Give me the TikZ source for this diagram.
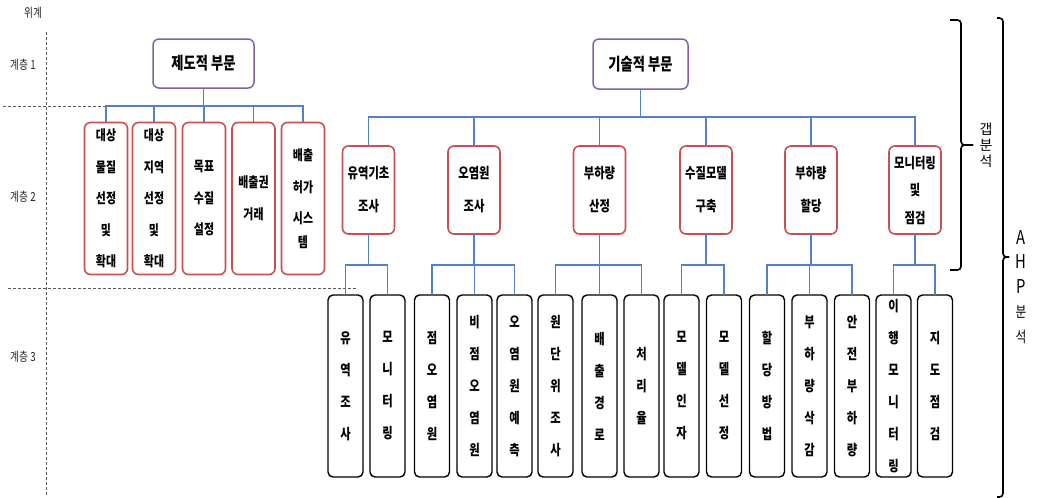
\documentclass[tikz,border=0pt]{standalone}
\usepackage{fontspec}
\newfontfamily\kr[FakeStretch=0.78]{Noto Sans CJK KR}
\newfontfamily\krn{Noto Sans CJK KR}
\definecolor{purpleC}{RGB}{128,100,162}
\definecolor{redC}{RGB}{200,80,80}
\definecolor{blueC}{RGB}{84,130,190}
\definecolor{guideC}{RGB}{90,90,90}
\tikzset{
  topbox/.style={draw=purpleC, line width=1.5pt, rounded corners=6pt, inner sep=0pt,
    font=\kr\bfseries\fontsize{17}{20}\selectfont},
  instbox/.style={draw=redC, line width=1.6pt, rounded corners=6pt, inner sep=0pt,
    minimum width=43pt, minimum height=152pt, align=center,
    font=\kr\bfseries\fontsize{14}{31.5}\selectfont},
  techbox/.style={draw=redC, line width=1.6pt, rounded corners=6pt, inner sep=0pt,
    minimum width=52pt, minimum height=88pt, align=center,
    font=\kr\bfseries\fontsize{14.5}{33}\selectfont},
  leafbox/.style={draw=black, line width=1.4pt, rounded corners=5pt, inner sep=0pt,
    minimum width=35pt, minimum height=182pt, align=center,
    font=\kr\bfseries\fontsize{14.5}{32}\selectfont},
  conn/.style={draw=blueC, line width=1.3pt, line cap=rect},
  guide/.style={draw=guideC, line width=1pt, dash pattern=on 3pt off 2pt},
  sidelabel/.style={inner sep=0pt, text=black!85, font=\kr\fontsize{12.5}{14}\selectfont},
  bracestyle/.style={draw=black, line width=1.6pt, rounded corners=3.5pt},
}
\begin{document}
\begin{tikzpicture}[x=1pt,y=-1pt]
\useasboundingbox (0,0) rectangle (1037,498);

% guides
\draw[guide] (46,32) -- (46,495);
\draw[guide] (3,106) -- (107,106);
\draw[guide] (8,288) -- (356,288);

% side labels
\node[sidelabel] (lw) at (33,13) {위계};
\node[sidelabel] (l1lab) at (23,65) {계층 1};
\node[sidelabel] (l2lab) at (23,197) {계층 2};
\node[sidelabel] (l3lab) at (23,357) {계층 3};

% level 1
\node[topbox, minimum width=101pt, minimum height=49pt] (A) at (203.5,63.5) {제도적 부문};
\node[topbox, minimum width=95pt, minimum height=50pt] (B) at (640.5,64) {기술적 부문};

% level 2 left
\node[instbox] (l1) at (106,198.5) {대상\\물질\\선정\\및\\확대};
\node[instbox] (l2) at (154,198.5) {대상\\지역\\선정\\및\\확대};
\node[instbox] (l3) at (204,198.5) {목표\\수질\\설정};
\node[instbox] (l4) at (253.5,198.5) {배출권\\거래};
\node[instbox] (l5) at (303,198.5) {배출\\허가\\시스\\[-8pt]템};

% level 2 right
\node[techbox] (r1) at (368.5,190) {유역기초\\조사};
\node[techbox] (r2) at (474,190) {오염원\\조사};
\node[techbox] (r3) at (599.5,190) {부하량\\산정};
\node[techbox] (r4) at (706,190) {수질모델\\구축};
\node[techbox] (r5) at (811,190) {부하량\\할당};
\node[techbox] (r6) at (915,190) {모니터링\\[-5.5pt]및\\[-5.5pt]점검};

% level 3
\node[leafbox] (c1) at (345.5,386) {유\\역\\조\\사};
\node[leafbox] (c2) at (387.5,386) {모\\니\\터\\링};
\node[leafbox] (c3) at (432,386) {점\\오\\염\\원};
\node[leafbox] (c4) at (474.5,386) {비\\점\\오\\염\\원};
\node[leafbox] (c5) at (514.5,386) {오\\염\\원\\예\\측};
\node[leafbox] (c6) at (555.5,386) {원\\단\\위\\조\\사};
\node[leafbox] (c7) at (599.5,386) {배\\출\\경\\로};
\node[leafbox] (c8) at (641.5,386) {처\\리\\율};
\node[leafbox] (c9) at (681.5,386) {모\\델\\인\\자};
\node[leafbox] (c10) at (724,386) {모\\델\\선\\정};
\node[leafbox] (c11) at (767,386) {할\\당\\방\\법};
\node[leafbox] (c12) at (809.5,386) {부\\하\\량\\삭\\감};
\node[leafbox] (c13) at (852,386) {안\\전\\부\\하\\량};
\node[leafbox] (c14) at (893.5,386) {이\\행\\모\\니\\터\\링};
\node[leafbox] (c15) at (935,386) {지\\도\\점\\검};

% connectors: trunk, bus, drops
\foreach \p/\by/\cl/\cr/\cs in {
    A/106/l1/l5/{l1,l2,l3,l4,l5},
    B/117/r1/r6/{r1,r2,r3,r4,r5,r6},
    r1/265/c1/c2/{c1,c2},
    r2/265/c3/c5/{c3,c4,c5},
    r3/265/c6/c8/{c6,c7,c8},
    r4/265/c9/c10/{c9,c10},
    r5/265/c11/c13/{c11,c12,c13},
    r6/265/c14/c15/{c14,c15}}{
  \draw[conn] (\p.south) -- (\p.south |- 0,\by);
  \draw[conn] (\cl.north |- 0,\by) -- (\cr.north |- 0,\by);
  \foreach \c in \cs \draw[conn] (\c.north |- 0,\by) -- (\c.north);
}

% gap-analysis brace
\coordinate (g1) at (950,20);
\coordinate (g2) at (950,270);
\coordinate (gt) at (973,145);
\draw[bracestyle] (g1) -- (961,20) -- (961,145) -- (gt);
\draw[bracestyle] (gt) -- (961,145) -- (961,270) -- (g2);
\node[inner sep=0pt, align=center, font=\krn\fontsize{14}{16}\selectfont] (gap) at (986,145.5) {갭\\분\\석};

% AHP brace
\coordinate (h1) at (997,18);
\coordinate (h2) at (997,497);
\coordinate (ht) at (1009,257);
\draw[bracestyle] (h1) -- (1003,18) -- (1003,257) -- (ht);
\draw[bracestyle] (ht) -- (1003,257) -- (1003,497) -- (h2);
\node[inner sep=0pt, align=center, font=\kr\fontsize{15}{24.6}\selectfont] (ahp) at (1021,287)
  {{\fontsize{19}{24.6}\selectfont A}\\{\fontsize{19}{24.6}\selectfont H}\\{\fontsize{19}{24.6}\selectfont P}\\분\\석};
\end{tikzpicture}
\end{document}
